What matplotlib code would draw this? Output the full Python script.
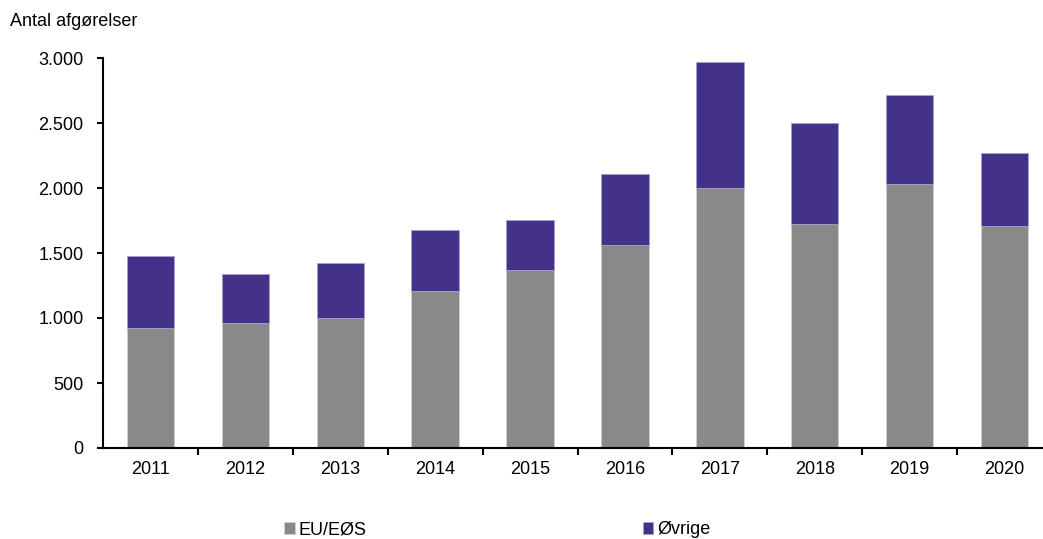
import matplotlib
matplotlib.use("Agg")
import matplotlib.pyplot as plt
from matplotlib.ticker import FuncFormatter, FixedLocator
import numpy as np

plt.rcParams['font.family'] = ['Liberation Sans', 'DejaVu Sans']

years = ["2011", "2012", "2013", "2014", "2015", "2016", "2017", "2018", "2019", "2020"]
eu_eos = [921, 959, 998, 1208, 1372, 1562, 2002, 1725, 2028, 1708]
ovrige = [558, 377, 423, 469, 382, 543, 967, 777, 685, 559]
yticks = [0, 500, 1000, 1500, 2000, 2500, 3000]

W, H = 1043, 539
fig = plt.figure(figsize=(W / 100, H / 100), dpi=100)
ax = fig.add_axes([103 / W, (H - 448) / H, (1043 - 103) / W, (448 - 58) / H])

x = np.arange(len(years))
gray = '#898989'
purple = '#44318A'
ax.bar(x, eu_eos, width=0.5, color=gray, edgecolor='#d0d0d0', linewidth=0.6, label='EU/EØS')
ax.bar(x, ovrige, width=0.5, bottom=eu_eos, color=purple, edgecolor='#a89fcc', linewidth=0.6, label='Øvrige')

ax.set_ylim(0, 3000)
ax.set_xlim(-0.5, (1043 - 103) / 94.9 - 0.5)
ax.set_yticks(yticks)
ax.yaxis.set_major_formatter(FuncFormatter(lambda v, p: f"{int(v):,}".replace(",", ".")))
ax.set_xticks(x)
ax.set_xticklabels(years)
ax.xaxis.set_minor_locator(FixedLocator(np.arange(0.5, len(years) - 0.5, 1)))
ax.tick_params(axis='x', which='major', length=0, pad=9, labelsize=13)
ax.tick_params(axis='x', which='minor', length=5, width=1.5, direction='out')
ax.tick_params(axis='y', length=4, width=1.5, direction='out', pad=10, labelsize=13)

for s in ['top', 'right']:
    ax.spines[s].set_visible(False)
for s in ['left', 'bottom']:
    ax.spines[s].set_linewidth(1.5)

fig.text(10 / W, 1 - 22 / H, "Antal afgørelser", fontsize=13, va='center', ha='left')

leg = fig.legend(loc='center', bbox_to_anchor=(497 / W, 1 - 530 / H), ncol=2, frameon=False,
                 fontsize=13, handlelength=0.6, handleheight=0.6, handletextpad=0.2,
                 columnspacing=15.3)

fig.savefig("out.png", dpi=100)
